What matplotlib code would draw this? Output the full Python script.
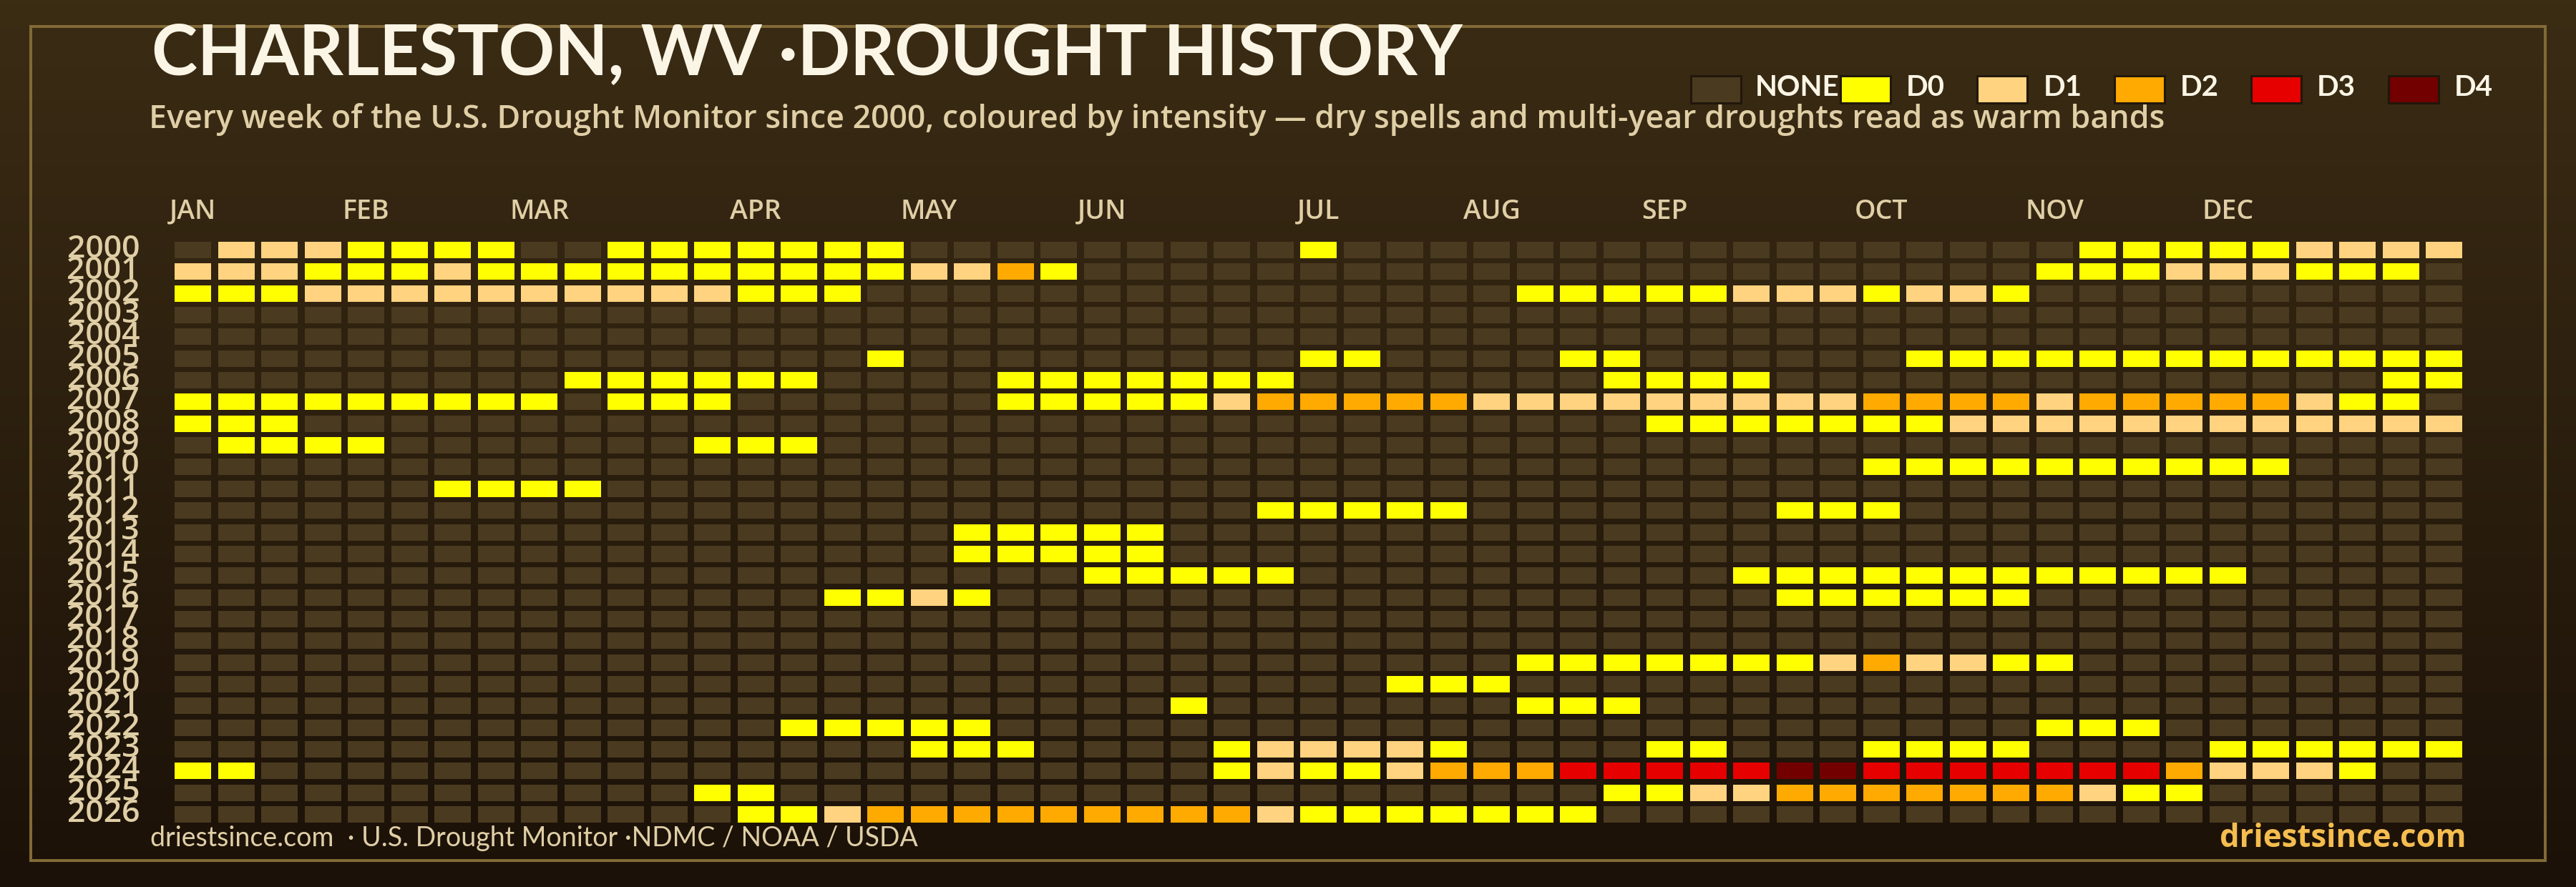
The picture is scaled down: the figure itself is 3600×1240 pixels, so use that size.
import numpy as np
import matplotlib
matplotlib.use("Agg")
import matplotlib.pyplot as plt
from matplotlib.colors import LinearSegmentedColormap
from matplotlib.patches import Rectangle
from matplotlib.transforms import ScaledTranslation

plt.rcParams["font.family"] = ["Lato", "DejaVu Sans"]
BODY = ["Open Sans", "DejaVu Sans"]

years = list(range(2000, 2027))
months = ["JAN", "FEB", "MAR", "APR", "MAY", "JUN", "JUL", "AUG", "SEP", "OCT", "NOV", "DEC"]
month_weeks = [0, 4, 8, 13, 17, 21, 26, 30, 34, 39, 43, 47]

# one string per year, one character per week: . = none, 0-4 = D0-D4
weeks = [
    ".1110000..0000000.........0.................000001111",
    "111000100000000001120......................000111000.",
    "0001111111111000...............000001110110..........",
    ".....................................................",
    ".....................................................",
    "................0.........00....00......0000000000000",
    ".........000000....0000000.......0000..............00",
    "000000000.000......000001222221111111112222122222100.",
    "000...............................0000000111111111111",
    ".0000.......000......................................",
    ".......................................0000000000....",
    "......0000...........................................",
    ".........................00000.......000.............",
    "..................00000..............................",
    "..................00000..............................",
    ".....................00000..........000000000000.....",
    "...............0010..................000000..........",
    ".....................................................",
    ".....................................................",
    "...............................0000000121100.........",
    "............................000......................",
    ".......................0.......000...................",
    "..............00000........................000.......",
    ".................000....011110....00...0000....000000",
    "00......................010012223333344333333321110..",
    "............00...................00112222222100......",
    ".............00122222222210000000....................",
]
assert all(len(w) == 53 for w in weeks)

level_names = ["NONE", "D0", "D1", "D2", "D3", "D4"]
level_colours = ["#4a3a1f", "#ffff00", "#ffd37f", "#ffaa00", "#e60000", "#730000"]
level_codes = ".01234"

W, H = 3600, 1240
fig = plt.figure(figsize=(W / 100, H / 100), dpi=100)

# background gradient + everything placed in pixels
bg = fig.add_axes([0, 0, 1, 1])
bg.set_xlim(0, W)
bg.set_ylim(H, 0)
bg.axis("off")
grad = LinearSegmentedColormap.from_list("bg", ["#3b2c14", "#1b1108"])
bg.imshow(np.linspace(0, 1, 256).reshape(-1, 1), cmap=grad, aspect="auto", extent=[0, W, H, 0], zorder=0)
bg.add_patch(Rectangle((43, 37), 3514, 1166, fill=False, ec="#816a36", lw=2.9, zorder=1))

# grid
left, right = 239.5, 3446.0
top, bottom = 334.3, 1153.7
ax = fig.add_axes([left / W, 1 - bottom / H, (right - left) / W, (bottom - top) / H])
ax.patch.set_alpha(0)
ax.set_xlim(-0.5, 52.5)
ax.set_ylim(26.5, -0.5)
for r, row in enumerate(weeks):
    cols = [level_colours[level_codes.index(c)] for c in row]
    ax.bar(range(len(row)), 0.757, width=0.85, bottom=r - 0.378, color=cols, linewidth=0)
for s in ax.spines.values():
    s.set_visible(False)
ax.xaxis.tick_top()
ax.set_xticks(month_weeks)
ax.set_xticklabels(months, fontsize=27, color="#e0cfa6", family=BODY, fontweight="semibold")
ax.set_yticks(range(len(years)))
ax.set_yticklabels(years, fontsize=32, color="#e0cfa6", family=BODY, fontweight="semibold", va="baseline")
ax.tick_params(length=0)
ax.tick_params(axis="x", pad=14)
ax.tick_params(axis="y", pad=32)
shift = ScaledTranslation(0, -0.105, fig.dpi_scale_trans)
for t in ax.get_yticklabels():
    t.set_transform(t.get_transform() + shift)

# titles
bg.text(212, 105, "CHARLESTON, WV ·DROUGHT HISTORY", fontsize=69.7, fontweight="bold", color="#fbf5e6", va="baseline", zorder=3)
bg.text(208, 179, "Every week of the U.S. Drought Monitor since 2000, coloured by intensity — dry spells and multi-year droughts read as warm bands",
        fontsize=32.25, color="#e0cfa6", family=BODY, fontweight="semibold", va="baseline", zorder=3)

# legend
swatch_x = [2361, 2570, 2761, 2953, 3144, 3336]
label_x = [2453, 2664, 2856, 3047, 3238, 3430]
for name, colour, sx, lx in zip(level_names, level_colours, swatch_x, label_x):
    bg.add_patch(Rectangle((sx + 1.5, 105.5), 70, 38, fc=colour, ec="#21170b", lw=2.2, zorder=3))
    bg.text(lx, 134, name, fontsize=29, fontweight="bold", color="#fbf5e6", va="baseline", zorder=3)

# footer
bg.text(210, 1183, "driestsince.com  · U.S. Drought Monitor ·NDMC / NOAA / USDA", fontsize=27, color="#e0cfa6", va="baseline", zorder=3)
bg.text(3447, 1184, "driestsince.com", fontsize=31.5, family=BODY, fontweight="bold", color="#f5bd4f", ha="right", va="baseline", zorder=3)

fig.savefig("out.png", dpi=100, facecolor="#1b1108")
